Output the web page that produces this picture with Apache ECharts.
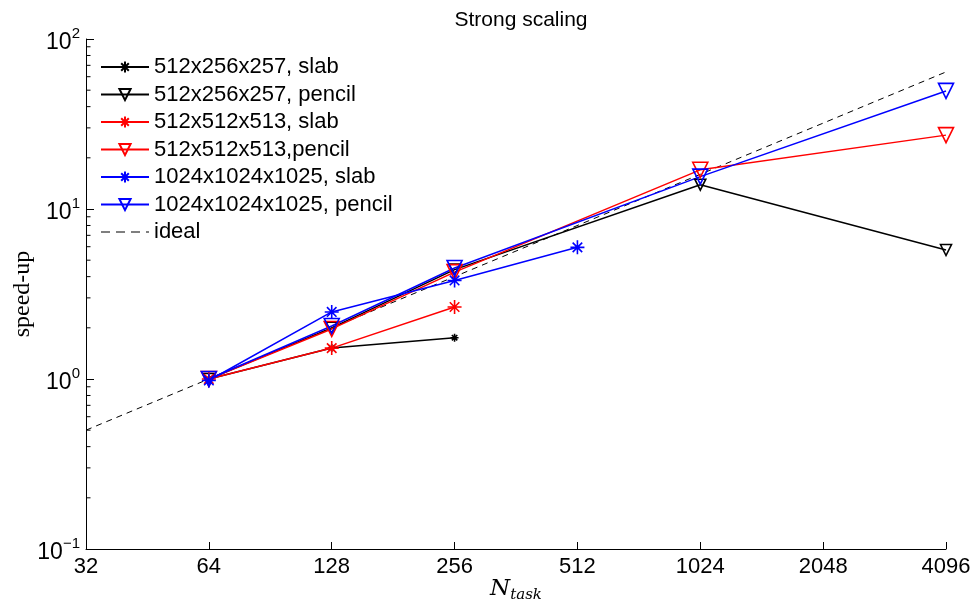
<!DOCTYPE html>
<html>
<head>
<meta charset="utf-8">
<script src="https://cdn.jsdelivr.net/npm/echarts@6/dist/echarts.min.js"></script>
<style>html,body{margin:0;padding:0;background:#fff}#c{width:972px;height:612px}</style>
</head>
<body>
<div id="c"></div>
<script>
// ---- data ----
const titleText = 'Strong scaling';
const slabTasks = [64, 128, 256];
const slab1024Tasks = [64, 128, 256, 512];
const pencilTasks = [64, 128, 256, 1024, 4096];
const idealTasks = [32, 4096];

const slab256 = [1.0, 1.52, 1.75];
const pencil256 = [1.0, 2.0, 4.4, 13.9, 5.74];
const slab512 = [1.0, 1.52, 2.65];
const pencil512 = [1.0, 1.97, 4.25, 17.0, 27.2];
const slab1024 = [0.98, 2.48, 3.8, 5.95];
const pencil1024 = [1.0, 2.05, 4.5, 15.5, 49.5];
const ideal = [0.5, 64];

const names = ['512x256x257, slab', '512x256x257, pencil', '512x512x513, slab',
  '512x512x513,pencil', '1024x1024x1025, slab', '1024x1024x1025, pencil', 'ideal'];
const yMinorTicks = [0.2,0.3,0.4,0.5,0.6,0.7,0.8,0.9,2,3,4,5,6,7,8,9,20,30,40,50,60,70,80,90];

const zip = (xs, ys) => xs.map((x, i) => [x, ys[i]]);
const STAR = 'path://M5,0L5,10M0,5L10,5M1.6,1.6L8.4,8.4M1.6,8.4L8.4,1.6';
const DASH_ICON = 'path://M0,-7L0,-7M48,7L48,7M0,-0.6H9V0.6H0ZM15,-0.6H24V0.6H15ZM30,-0.6H39V0.6H30ZM45,-0.6H48V0.6H45Z';
const FONT = 'Liberation Sans';

function mk(name, xs, ys, color, kind, size) {
  const s = {
    name, type: 'line', data: zip(xs, ys), clip: false, z: 3,
    lineStyle: { color, width: 1.5 },
    symbolSize: size,
    showAllSymbol: true,
    emphasis: { disabled: true },
    animation: false
  };
  if (kind === 'star') {
    s.symbol = STAR;
    s.itemStyle = { color, borderColor: color, borderWidth: 1.6 };
  } else {
    s.symbol = 'triangle';
    s.symbolRotate = 180;
    s.itemStyle = { color: 'rgba(0,0,0,0)', borderColor: color, borderWidth: 1.6 };
  }
  return s;
}

const chart = echarts.init(document.getElementById('c'), null, { renderer: 'canvas' });
const sup = e => (e < 0 ? '\u2212' + (-e) : '' + e);

const legendData = names.map(n => n === 'ideal' ? { name: n, icon: DASH_ICON } : { name: n });

chart.setOption({
  animation: false,
  backgroundColor: '#fff',
  title: {
    text: titleText, left: 516, top: 5, textAlign: 'center',
    textStyle: { fontFamily: FONT, fontSize: 21, fontWeight: 'normal', color: '#000' }
  },
  grid: { left: 86, right: 26, top: 39, bottom: 63, containLabel: false, outerBoundsMode: 'none' },
  legend: {
    data: legendData, orient: 'vertical', left: 95, top: 51,
    itemWidth: 48, itemHeight: 14, itemGap: 5.5,
    textStyle: { fontFamily: FONT, fontSize: 22, color: '#000' },
    selectedMode: false
  },
  xAxis: {
    type: 'log', logBase: 2, min: 32, max: 4096,
    name: '{i|N}{sub|task}', nameLocation: 'middle', nameGap: 27, nameMoveOverlap: false,
    nameTextStyle: {
      rich: {
        i: { fontFamily: 'DejaVu Serif', fontStyle: 'italic', fontSize: 23, color: '#000' },
        sub: { fontFamily: 'DejaVu Serif', fontStyle: 'italic', fontSize: 15, color: '#000', padding: [12, 0, 0, 0] }
      }
    },
    axisLine: { lineStyle: { color: '#000', width: 1 } },
    axisTick: { inside: true, length: 7, lineStyle: { color: '#000' } },
    axisLabel: { fontFamily: FONT, fontSize: 22, color: '#000', margin: 7, formatter: v => '' + Math.round(v) },
    splitLine: { show: false }
  },
  yAxis: {
    type: 'log', logBase: 10, min: 0.1, max: 100,
    name: 'speed-up', nameLocation: 'middle', nameGap: 51, nameRotate: 90, nameMoveOverlap: false,
    nameTextStyle: { fontFamily: 'Liberation Serif', fontSize: 24, color: '#000' },
    axisLine: { lineStyle: { color: '#000', width: 1 } },
    axisTick: { inside: true, length: 8, lineStyle: { color: '#000' } },
    axisLabel: {
      margin: 6,
      formatter: v => '{b|10}{s|' + sup(Math.round(Math.log10(v))) + '}',
      rich: {
        b: { fontFamily: FONT, fontSize: 23, color: '#000', padding: [8, 0, 0, 0] },
        s: { fontFamily: FONT, fontSize: 15, color: '#000', padding: [0, 0, 10, 0] }
      }
    },
    splitLine: { show: false }
  },
  series: [
    mk(names[0], slabTasks, slab256, '#000', 'star', 8),
    mk(names[1], pencilTasks, pencil256, '#000', 'tri', 11),
    mk(names[2], slabTasks, slab512, '#f00', 'star', 14),
    mk(names[3], pencilTasks, pencil512, '#f00', 'tri', 15),
    mk(names[4], slab1024Tasks, slab1024, '#00f', 'star', 14),
    mk(names[5], pencilTasks, pencil1024, '#00f', 'tri', 15),
    {
      name: names[6], type: 'line', data: zip(idealTasks, ideal), symbol: 'none', z: 2,
      itemStyle: { color: '#000' },
      lineStyle: { color: '#000', width: 1, type: [6, 5] }, emphasis: { disabled: true }
    },
    {
      name: 'minor', type: 'custom', silent: true, z: 1,
      data: yMinorTicks.map(v => [32, v]),
      renderItem: (params, api) => {
        const p = api.coord([api.value(0), api.value(1)]);
        return { type: 'line', shape: { x1: p[0], y1: p[1], x2: p[0] + 4.5, y2: p[1] },
          style: { stroke: '#000', lineWidth: 1 } };
      }
    }
  ]
});
</script>
</body>
</html>
